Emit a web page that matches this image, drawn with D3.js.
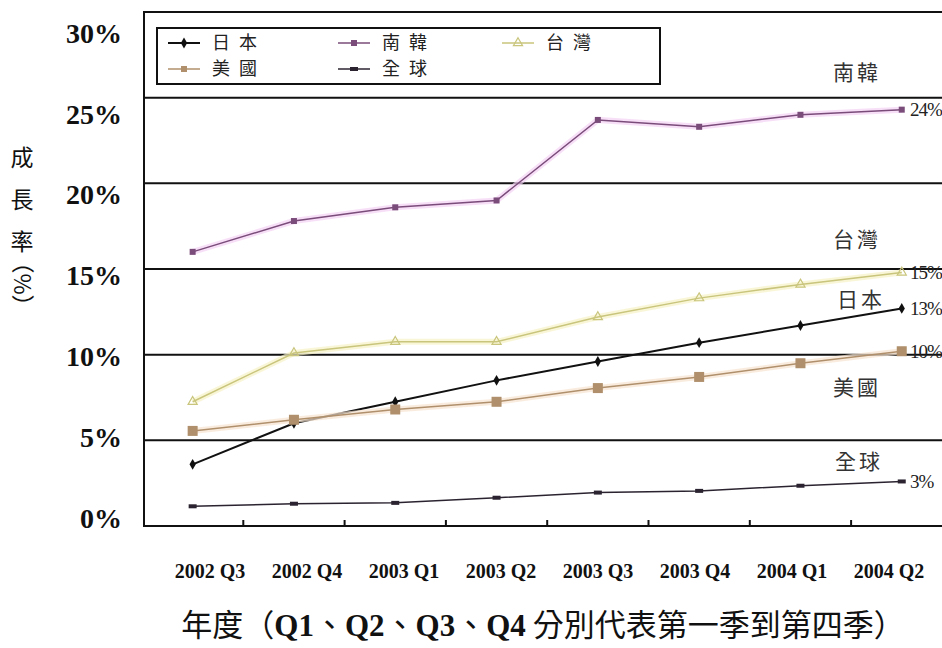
<!DOCTYPE html>
<html lang="zh-Hant">
<head>
  <meta charset="UTF-8">
  <script src="https://d3js.org/d3.v7.min.js"></script>
  <style>
    body { margin: 0; background: #fff; }
  </style>
</head>
<body>
<div id="my_dataviz"></div>
<script>
// data (growth rate, %)
var quarters = ["2002 Q3", "2002 Q4", "2003 Q1", "2003 Q2", "2003 Q3", "2003 Q4", "2004 Q1", "2004 Q2"];
var japan  = [3.6, 6.0, 7.25, 8.5, 9.6, 10.7, 11.7, 12.7];
var korea  = [16.0, 17.8, 18.6, 19.0, 23.7, 23.3, 24.0, 24.3];
var taiwan = [7.25, 10.1, 10.75, 10.75, 12.2, 13.3, 14.1, 14.8];
var usa    = [5.55, 6.2, 6.8, 7.25, 8.05, 8.7, 9.5, 10.2];
var world  = [1.15, 1.3, 1.35, 1.65, 1.95, 2.05, 2.35, 2.6];
var yTicks = [0, 5, 10, 15, 20, 25, 30];

var W = 942, H = 648;
var plotLeft = 144, plotTop = 12, plotBottom = 526, plotRight = W;

var svg = d3.select("#my_dataviz")
  .append("svg")
  .attr("width", W)
  .attr("height", H)
  .style("display", "block");

var x = d3.scaleBand()
  .domain(quarters)
  .range([142, 142 + 8 * 101.3]);

var xLabel = d3.scalePoint()
  .domain(quarters)
  .range([210, 889]);

var y = d3.scaleLinear()
  .domain([0, 30])
  .range([plotBottom, plotTop]);

// tick labels in the original sit a bit off the grid lines
var yLabel = d3.scaleLinear()
  .domain([0, 30])
  .range([518, 33]);

var cx = function(d, i) { return x(quarters[i]) + x.bandwidth() / 2; };

// grid lines (thick, black)
svg.append("g")
  .selectAll("line")
  .data(yTicks.filter(function(v) { return v > 0; }))
  .enter()
  .append("line")
    .attr("x1", plotLeft)
    .attr("x2", plotRight)
    .attr("y1", function(d) { return y(d); })
    .attr("y2", function(d) { return y(d); })
    .attr("stroke", "#111")
    .attr("stroke-width", 2);

// frame: left side + bottom axis
svg.append("line")
  .attr("x1", plotLeft).attr("x2", plotLeft)
  .attr("y1", plotTop - 1).attr("y2", plotBottom + 1)
  .attr("stroke", "#111").attr("stroke-width", 2);
svg.append("line")
  .attr("x1", plotLeft).attr("x2", plotRight)
  .attr("y1", plotBottom).attr("y2", plotBottom)
  .attr("stroke", "#111").attr("stroke-width", 2);

// small ticks between quarters, pointing up
svg.append("g")
  .selectAll("line")
  .data(quarters.slice(1))
  .enter()
  .append("line")
    .attr("x1", function(d) { return x(d); })
    .attr("x2", function(d) { return x(d); })
    .attr("y1", plotBottom)
    .attr("y2", plotBottom - 6)
    .attr("stroke", "#111")
    .attr("stroke-width", 2);

// y tick labels
svg.append("g")
  .selectAll("text")
  .data(yTicks)
  .enter()
  .append("text")
    .attr("x", 122)
    .attr("y", function(d) { return yLabel(d); })
    .attr("dy", "0.35em")
    .attr("text-anchor", "end")
    .style("font-family", "'Liberation Serif', serif")
    .style("font-weight", "bold")
    .style("font-size", "28px")
    .style("fill", "#111")
    .text(function(d) { return d + "%"; });

// x tick labels
svg.append("g")
  .selectAll("text")
  .data(quarters)
  .enter()
  .append("text")
    .attr("x", function(d) { return xLabel(d); })
    .attr("y", 578)
    .attr("text-anchor", "middle")
    .style("font-family", "'Liberation Serif', serif")
    .style("font-weight", "bold")
    .style("font-size", "20px")
    .style("fill", "#111")
    .text(function(d) { return d; });

// series
var series = [
  { name: "日本", values: japan,  color: "#111111", glow: null,      width: 2,   marker: "diamond" },
  { name: "南韓", values: korea,  color: "#7a4c7a", glow: "#f3d2f3", width: 1.5, marker: "smallsq" },
  { name: "台灣", values: taiwan, color: "#c9c57c", glow: "#f6f2c8", width: 1.5, marker: "triangle" },
  { name: "美國", values: usa,    color: "#b0906c", glow: "#f6e4d0", width: 1.5, marker: "bigsq" },
  { name: "全球", values: world,  color: "#2b2430", glow: null,      width: 1.5, marker: "dash" }
];

var line = d3.line()
  .x(cx)
  .y(function(d) { return y(d); });

function drawMarker(g, type, color) {
  if (type === "diamond") {
    g.append("path").attr("d", d3.symbol().type(d3.symbolDiamond).size(34)).attr("fill", color);
  } else if (type === "smallsq") {
    g.append("rect").attr("x", -3).attr("y", -3).attr("width", 6).attr("height", 6).attr("fill", color);
  } else if (type === "triangle") {
    g.append("path").attr("d", d3.symbol().type(d3.symbolTriangle).size(36))
      .attr("fill", "none").attr("stroke", color).attr("stroke-width", 1.2);
  } else if (type === "bigsq") {
    g.append("rect").attr("x", -5).attr("y", -5).attr("width", 10).attr("height", 10).attr("fill", color);
  } else if (type === "dash") {
    g.append("rect").attr("x", -4).attr("y", -2).attr("width", 8).attr("height", 4).attr("fill", color);
  }
}

series.forEach(function(s) {
  if (s.glow) {
    svg.append("path")
      .datum(s.values)
      .attr("d", line)
      .attr("fill", "none")
      .attr("stroke", s.glow)
      .attr("stroke-width", 6)
      .attr("stroke-opacity", 0.7);
  }
  svg.append("path")
    .datum(s.values)
    .attr("d", line)
    .attr("fill", "none")
    .attr("stroke", s.color)
    .attr("stroke-width", s.width);

  svg.append("g")
    .selectAll("g")
    .data(s.values)
    .enter()
    .append("g")
      .attr("transform", function(d, i) { return "translate(" + cx(d, i) + "," + y(d) + ")"; })
      .each(function() { drawMarker(d3.select(this), s.marker, s.color); });

  // end value label
  var last = s.values[s.values.length - 1];
  svg.append("text")
    .attr("x", 910)
    .attr("y", y(last))
    .attr("dy", "0.35em")
    .style("font-family", "'Liberation Serif', serif")
    .style("font-size", "19px")
    .style("letter-spacing", "-1px")
    .style("fill", "#222")
    .text(Math.round(last) + "%");
});

// series names written beside the lines
var nameSpots = { "南韓": [857, 73], "台灣": [857, 240], "日本": [861, 300], "美國": [857, 388], "全球": [859, 462] };
series.forEach(function(s) {
  var p = nameSpots[s.name];
  svg.append("text")
    .attr("x", p[0])
    .attr("y", p[1])
    .attr("dy", "0.35em")
    .attr("text-anchor", "middle")
    .style("font-family", "'Noto Sans CJK TC', sans-serif")
    .style("font-size", "21px")
    .style("letter-spacing", "3px")
    .style("fill", "#333")
    .text(s.name);
});

// legend
var legend = svg.append("g");
legend.append("rect")
  .attr("x", 157).attr("y", 28)
  .attr("width", 503).attr("height", 56)
  .attr("fill", "#fff")
  .attr("stroke", "#111")
  .attr("stroke-width", 2);

var legendSpots = [[168, 43], [338, 43], [502, 43], [168, 69], [338, 69]];
series.forEach(function(s, i) {
  var p = legendSpots[i];
  var g = legend.append("g").attr("transform", "translate(" + p[0] + "," + p[1] + ")");
  g.append("line")
    .attr("x1", 0).attr("x2", 32)
    .attr("stroke", s.color)
    .attr("stroke-width", s.width);
  var m = g.append("g").attr("transform", "translate(16,0)");
  drawMarker(m, s.marker === "bigsq" ? "smallsq" : s.marker, s.color);
  g.append("text")
    .attr("x", 44)
    .attr("dy", "0.35em")
    .style("font-family", "'Noto Sans CJK TC', sans-serif")
    .style("font-size", "18px")
    .style("letter-spacing", "9px")
    .style("fill", "#222")
    .text(s.name);
});

// y axis title, written vertically
var yTitle = svg.append("g").style("font-family", "'Noto Sans CJK TC', sans-serif")
  .style("font-size", "23px").style("fill", "#111");
["成", "長", "率"].forEach(function(c, i) {
  yTitle.append("text")
    .attr("x", 22)
    .attr("y", 158 + i * 42)
    .attr("dy", "0.35em")
    .attr("text-anchor", "middle")
    .text(c);
});
yTitle.append("text")
  .attr("transform", "translate(22,284) rotate(90)")
  .attr("dy", "0.35em")
  .attr("text-anchor", "middle")
  .text("（%）");

// x axis title
var xTitle = svg.append("text")
  .attr("x", 543)
  .attr("y", 636)
  .attr("text-anchor", "middle")
  .style("font-size", "31px")
  .style("fill", "#111");
var parts = [["年度（", 0], ["Q1", 1], ["、", 0], ["Q2", 1], ["、", 0], ["Q3", 1], ["、", 0], ["Q4", 1], [" 分別代表第一季到第四季）", 0]];
parts.forEach(function(p) {
  xTitle.append("tspan")
    .style("font-family", p[1] ? "'Liberation Serif', serif" : "'Noto Sans CJK TC', sans-serif")
    .style("font-weight", p[1] ? "bold" : "normal")
    .text(p[0]);
});
</script>
</body>
</html>
